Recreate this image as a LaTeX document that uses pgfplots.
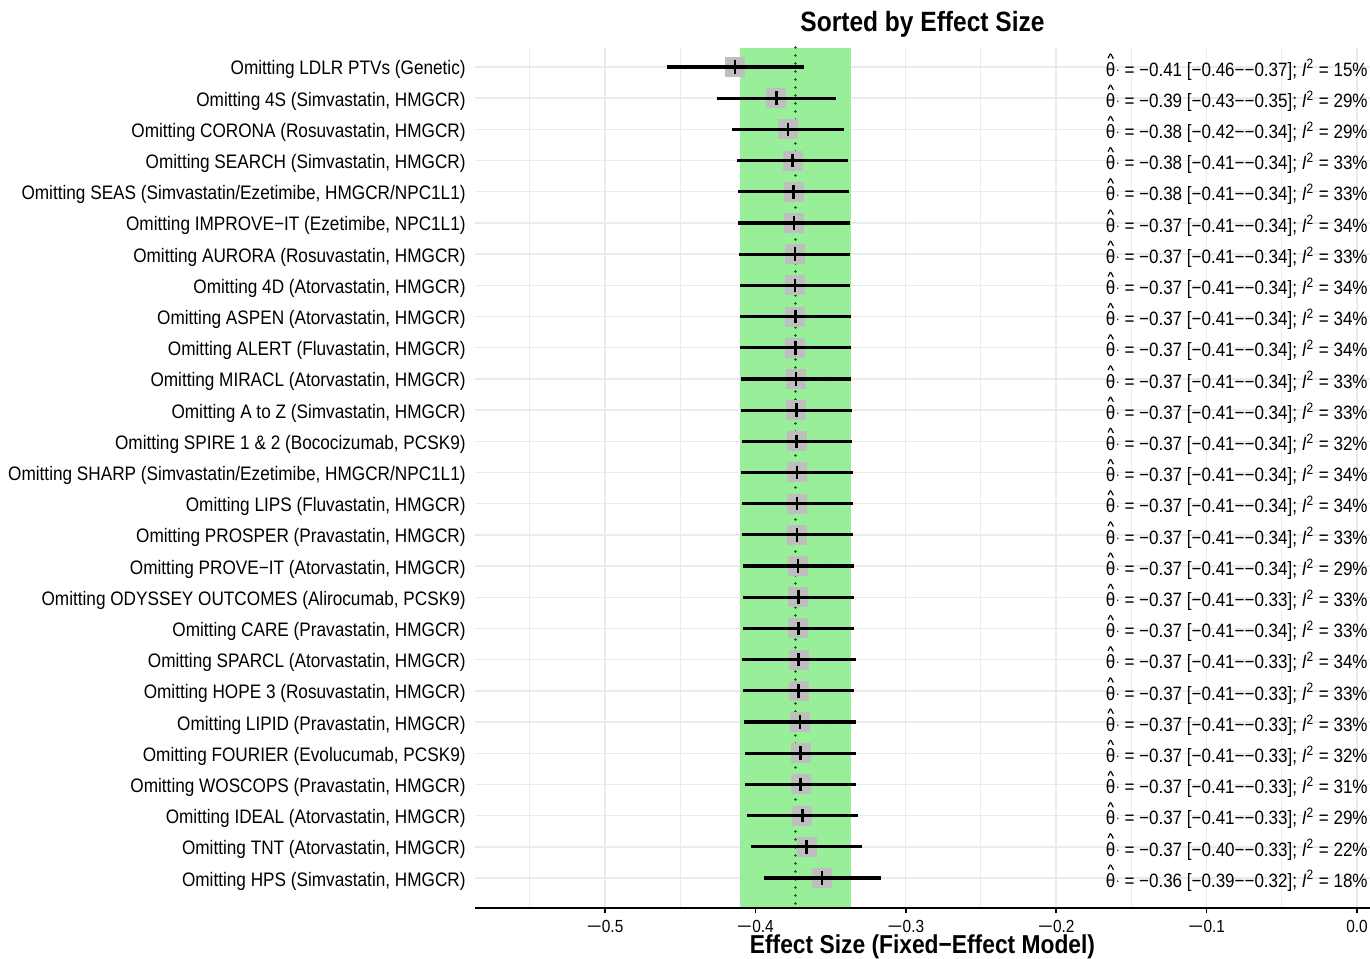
\documentclass[border=0pt]{standalone}
\usepackage{fontspec}
\setmainfont{Liberation Sans}[FakeStretch=0.88]
\usepackage{pgfplots}
\pgfplotsset{compat=1.18}
\usepackage{pgfplotstable}

\definecolor{bandgreen}{RGB}{144,238,144}
\definecolor{sqgray}{RGB}{190,190,190}
\definecolor{gridgray}{RGB}{235,235,235}
\definecolor{dkgreen}{RGB}{0,100,0}

\pgfplotstableread{
row est lo hi
1 -0.4136 -0.4590 -0.3679
2 -0.3861 -0.4258 -0.3464
3 -0.3783 -0.4153 -0.3413
4 -0.3752 -0.4122 -0.3384
5 -0.3746 -0.4116 -0.3376
6 -0.3743 -0.4113 -0.3373
7 -0.3737 -0.4107 -0.3369
8 -0.3737 -0.4105 -0.3369
9 -0.3734 -0.4102 -0.3367
10 -0.3734 -0.4102 -0.3364
11 -0.3730 -0.4096 -0.3362
12 -0.3728 -0.4096 -0.3358
13 -0.3726 -0.4091 -0.3358
14 -0.3723 -0.4093 -0.3351
15 -0.3723 -0.4091 -0.3353
16 -0.3723 -0.4089 -0.3351
17 -0.3717 -0.4080 -0.3347
18 -0.3714 -0.4085 -0.3342
19 -0.3714 -0.4080 -0.3347
20 -0.3712 -0.4089 -0.3333
21 -0.3712 -0.4080 -0.3342
22 -0.3703 -0.4076 -0.3329
23 -0.3699 -0.4069 -0.3329
24 -0.3699 -0.4067 -0.3331
25 -0.3688 -0.4058 -0.3320
26 -0.3659 -0.4029 -0.3289
27 -0.3557 -0.3943 -0.3168
}\data

% hat drawn from two tilted rules (a graphic, not a glyph)
\newcommand{\hatsym}{\hbox{\rotatebox[origin=bl]{62}{\rule{0.27em}{0.06em}}\kern-0.03em\raisebox{0.21em}{\rotatebox[origin=bl]{-62}{\rule{0.27em}{0.06em}}}}}
\newcommand{\thh}{\hbox{\ooalign{θ\cr\hidewidth\raisebox{0.92em}{\hatsym}\hidewidth\cr}}\kern0.02em\raisebox{0.1em}{\scalebox{0.7}{·}}}
\newcommand{\mns}{\scalebox{1.7}[1]{−}}
\newcommand{\ann}[4]{\node[anchor=base east, inner sep=0pt, font=\fontsize{9.7}{10}\selectfont, xshift=-1bp, yshift=-4.6bp] at (axis cs:0.00864,#1) {\thh{} = #2 [#3]; \textit{I}\textsuperscript{2} = #4\%};}

\begin{document}
\begin{tikzpicture}
\begin{axis}[
  at={(0,0)}, anchor=south west,
  scale only axis, width=447.5bp, height=430.25bp,
  xmin=-0.5864, xmax=0.00864, ymin=0.375, ymax=27.962, y dir=reverse,
  axis line style={draw=none},
  xtick={-0.5,-0.4,-0.3,-0.2,-0.1,0},
  xticklabels={\mns0.5,\mns0.4,\mns0.3,\mns0.2,\mns0.1,0.0},
  minor xtick={-0.55,-0.45,-0.35,-0.25,-0.15,-0.05},
  ytick={1,...,27},
  yticklabels={
    {Omitting LDLR PTVs (Genetic)},
    {Omitting 4S (Simvastatin, HMGCR)},
    {Omitting CORONA (Rosuvastatin, HMGCR)},
    {Omitting SEARCH (Simvastatin, HMGCR)},
    {Omitting SEAS (Simvastatin/Ezetimibe, HMGCR/NPC1L1)},
    {Omitting IMPROVE−IT (Ezetimibe, NPC1L1)},
    {Omitting AURORA (Rosuvastatin, HMGCR)},
    {Omitting 4D (Atorvastatin, HMGCR)},
    {Omitting ASPEN (Atorvastatin, HMGCR)},
    {Omitting ALERT (Fluvastatin, HMGCR)},
    {Omitting MIRACL (Atorvastatin, HMGCR)},
    {Omitting A to Z (Simvastatin, HMGCR)},
    {Omitting SPIRE 1 \& 2 (Bococizumab, PCSK9)},
    {Omitting SHARP (Simvastatin/Ezetimibe, HMGCR/NPC1L1)},
    {Omitting LIPS (Fluvastatin, HMGCR)},
    {Omitting PROSPER (Pravastatin, HMGCR)},
    {Omitting PROVE−IT (Atorvastatin, HMGCR)},
    {Omitting ODYSSEY OUTCOMES (Alirocumab, PCSK9)},
    {Omitting CARE (Pravastatin, HMGCR)},
    {Omitting SPARCL (Atorvastatin, HMGCR)},
    {Omitting HOPE 3 (Rosuvastatin, HMGCR)},
    {Omitting LIPID (Pravastatin, HMGCR)},
    {Omitting FOURIER (Evolucumab, PCSK9)},
    {Omitting WOSCOPS (Pravastatin, HMGCR)},
    {Omitting IDEAL (Atorvastatin, HMGCR)},
    {Omitting TNT (Atorvastatin, HMGCR)},
    {Omitting HPS (Simvastatin, HMGCR)}},
  xmajorgrids, xminorgrids, ymajorgrids,
  major grid style={gridgray, line width=0.7bp},
  minor grid style={gridgray, line width=0.5bp},
  xtick pos=left, ytick pos=left,
  tick align=outside,
  major tick length=2.5bp, minor tick length=0pt,
  ytick style={draw=none},
  xtick style={black, line width=0.8bp},
  yticklabel style={font=\fontsize{9.8}{10}\selectfont, anchor=base east, inner sep=0pt, xshift=-2bp, yshift=-4bp},
  xticklabel style={font=\fontsize{8.8}{9}\selectfont, anchor=base, inner sep=0pt, yshift=-9.5bp},
  clip=false,
]
\addplot[fill=bandgreen, draw=none, fill opacity=0.92] coordinates {(-0.4102,0.375) (-0.3364,0.375) (-0.3364,27.962) (-0.4102,27.962)} -- cycle;
\addplot[dkgreen, line width=1.4bp, line cap=round, dash pattern=on 0.01bp off 3.99bp] coordinates {(-0.3732,0.375) (-0.3732,27.962)};
% gray squares (20 px wide boxes drawn as thick bars)
\addplot[draw=none, mark=none, error bars/.cd, x dir=both, x explicit, error mark=none,
  error bar style={sqgray, line width=10bp, line cap=butt}]
  table[x=est, y=row, x error plus expr=0.00665, x error minus expr=0.00665] {\data};
% confidence intervals
\addplot[draw=none, mark=none, error bars/.cd, x dir=both, x explicit, error mark=none,
  error bar style={black, line width=1.6bp}]
  table[x=est, y=row, x error plus expr=\thisrow{hi}-\thisrow{est}, x error minus expr=\thisrow{est}-\thisrow{lo}] {\data};
\addplot[only marks, mark=|, mark size=3.4bp, mark options={black, line width=1.4bp}] table[x=est, y=row] {\data};
\draw[black, line width=1.3bp] (axis cs:-0.5864,27.962) -- (axis cs:0.00864,27.962);
\ann{1}{−0.41}{−0.46−−0.37}{15}
\ann{2}{−0.39}{−0.43−−0.35}{29}
\ann{3}{−0.38}{−0.42−−0.34}{29}
\ann{4}{−0.38}{−0.41−−0.34}{33}
\ann{5}{−0.38}{−0.41−−0.34}{33}
\ann{6}{−0.37}{−0.41−−0.34}{34}
\ann{7}{−0.37}{−0.41−−0.34}{33}
\ann{8}{−0.37}{−0.41−−0.34}{34}
\ann{9}{−0.37}{−0.41−−0.34}{34}
\ann{10}{−0.37}{−0.41−−0.34}{34}
\ann{11}{−0.37}{−0.41−−0.34}{33}
\ann{12}{−0.37}{−0.41−−0.34}{33}
\ann{13}{−0.37}{−0.41−−0.34}{32}
\ann{14}{−0.37}{−0.41−−0.34}{34}
\ann{15}{−0.37}{−0.41−−0.34}{34}
\ann{16}{−0.37}{−0.41−−0.34}{33}
\ann{17}{−0.37}{−0.41−−0.34}{29}
\ann{18}{−0.37}{−0.41−−0.33}{33}
\ann{19}{−0.37}{−0.41−−0.34}{33}
\ann{20}{−0.37}{−0.41−−0.33}{34}
\ann{21}{−0.37}{−0.41−−0.33}{33}
\ann{22}{−0.37}{−0.41−−0.33}{33}
\ann{23}{−0.37}{−0.41−−0.33}{32}
\ann{24}{−0.37}{−0.41−−0.33}{31}
\ann{25}{−0.37}{−0.41−−0.33}{29}
\ann{26}{−0.37}{−0.40−−0.33}{22}
\ann{27}{−0.36}{−0.39−−0.32}{18}
\end{axis}
\node[font=\bfseries\fontsize{14}{14}\selectfont, anchor=base] at ([yshift=8bp]current axis.north) {Sorted by Effect Size};
\node[font=\bfseries\fontsize{13}{13}\selectfont, anchor=base] at ([yshift=-22.75bp]current axis.south) {Effect Size (Fixed−Effect Model)};
\pgfresetboundingbox
\path[use as bounding box] (-237.5bp,-25.5bp) rectangle (447.5bp,454bp);
\end{tikzpicture}
\end{document}
